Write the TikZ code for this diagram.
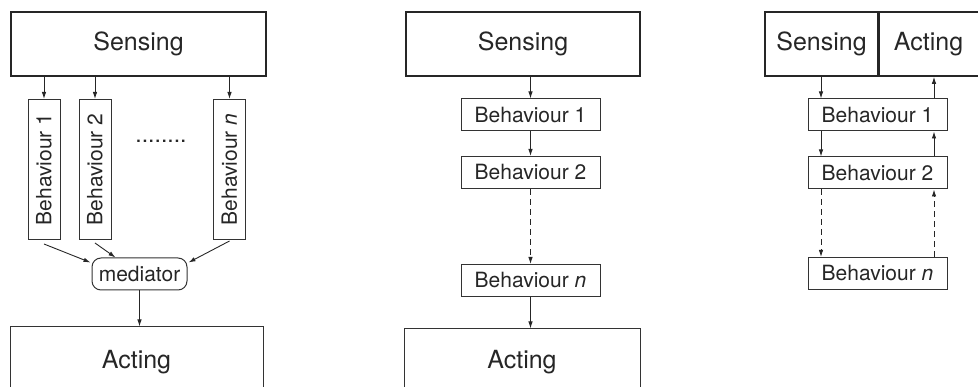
\documentclass[tikz,border=0pt]{standalone}
\usepackage{fontspec}
\setmainfont{TeX Gyre Heros}
\usetikzlibrary{arrows.meta,calc}
\begin{document}
\begin{tikzpicture}[x=1pt,y=-1pt,
  every node/.style={inner sep=0pt, text=black!85},
  bigbox/.style={draw=black!85, line width=1.6pt, font=\fontsize{25}{28}\selectfont},
  openbox/.style={draw=black!80, line width=1pt, font=\fontsize{25}{28}\selectfont},
  behbox/.style={draw=black!80, line width=1pt, font=\fontsize{21}{24}\selectfont, minimum width=139pt, minimum height=32pt},
  vbehbox/.style={draw=black!80, line width=1pt, font=\fontsize{21}{24}\selectfont, minimum width=140pt, minimum height=32pt, rotate=90},
  medbox/.style={draw=black!80, line width=1pt, rounded corners=9pt, font=\fontsize{21}{24}\selectfont, minimum width=95pt, minimum height=32pt},
  arr/.style={draw=black!85, line width=0.9pt, -{Latex[length=7pt,width=4.5pt]}},
  darr/.style={arr, dashed, dash pattern=on 6pt off 4pt}
]
\clip (0,0) rectangle (978,387);
% ---------- left panel ----------
\node[bigbox, minimum width=255pt, minimum height=64pt] (SL) at (138.5,44) {Sensing};
\node[vbehbox] (LB1) at (44,169.5) {Behaviour 1};
\node[vbehbox] (LB2) at (95,169.5) {Behaviour 2};
\node[vbehbox] (LBn) at (229.5,169.5) {Behaviour \textit{n}};
\node[font=\fontsize{23}{24}\selectfont] (dots) at (161,141) {........};
\node[medbox] (med) at (139.5,274) {mediator};
\node[openbox, minimum width=253pt, minimum height=70pt] (AL) at (136.5,362) {Acting};
\draw[arr] (LB1.east |- SL.south) -- (LB1.east);
\draw[arr] (LB2.east |- SL.south) -- (LB2.east);
\draw[arr] (LBn.east |- SL.south) -- (LBn.east);
\draw[arr] ($(LB1.west)+(0,4)$) -- ($(med.north west)+(-1,5)$);
\draw[arr] ($(LB2.west)+(0,3)$) -- ($(med.north west)+(24,0)$);
\draw[arr] ($(LBn.west)+(0,1)$) -- ($(med.north east)+(1,5)$);
\draw[arr] (med.south) -- (med.south |- AL.north);
% ---------- middle panel ----------
\node[bigbox, minimum width=234pt, minimum height=64pt] (SM) at (523,44) {Sensing};
\node[behbox] (MB1) at (530.5,115) {Behaviour 1};
\node[behbox] (MB2) at (530.5,172.5) {Behaviour 2};
\node[behbox] (MBn) at (530.5,280.5) {Behaviour \textit{n}};
\node[openbox, minimum width=236pt, minimum height=66pt] (AM) at (522,362) {Acting};
\draw[arr] (MB1.north |- SM.south) -- (MB1.north);
\draw[arr] (MB1.south) -- (MB2.north);
\draw[darr] (MB2.south) -- (MBn.north);
\draw[arr] (MBn.south) -- (MBn.south |- AM.north);
% ---------- right panel ----------
\node[bigbox, minimum width=113pt, minimum height=64pt] (SR) at (821.5,44) {Sensing};
\node[bigbox, minimum width=106pt, minimum height=64pt, anchor=west] (AR) at (SR.east) {\hspace*{-8pt}Acting};
\node[behbox] (RB1) at (877.5,115) {Behaviour 1};
\node[behbox] (RB2) at (877.5,173) {Behaviour 2};
\node[behbox] (RBn) at (877.5,273.5) {Behaviour \textit{n}};
\coordinate (lx) at (821,0);
\coordinate (rx) at (934,0);
\draw[arr] (lx |- SR.south) -- (lx |- RB1.north);
\draw[arr] (lx |- RB1.south) -- (lx |- RB2.north);
\draw[darr] (lx |- RB2.south) -- (lx |- RBn.north);
\draw[darr] (rx |- RBn.north) -- (rx |- RB2.south);
\draw[arr] (rx |- RB2.north) -- (rx |- RB1.south);
\draw[arr] (rx |- RB1.north) -- (rx |- AR.south);
\end{tikzpicture}
\end{document}
